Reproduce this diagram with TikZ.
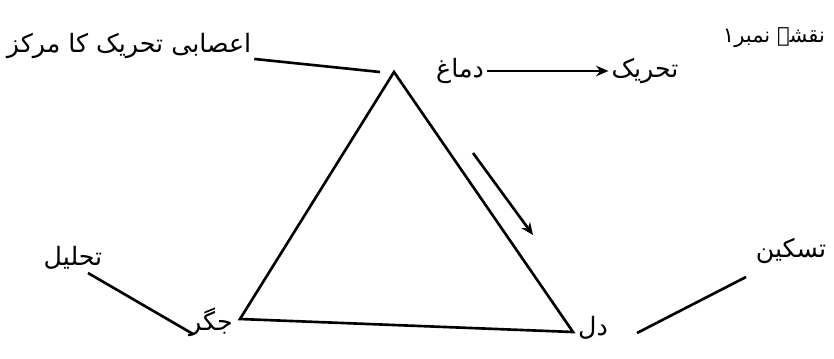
\documentclass[tikz,border=0pt]{standalone}
\usepackage{fontspec}
\newfontfamily\urdufont[Script=Arabic]{DejaVu Sans}
\TeXXeTstate=1
\usetikzlibrary{arrows.meta, positioning}
\newcommand{\urdu}[1]{\urdufont\beginR #1\endR}

\begin{document}
\begin{tikzpicture}[x=0.02cm, y=-0.02cm, >={Stealth[length=7pt, width=6pt]}, line width=1.5pt]
  \useasboundingbox (0,0) rectangle (834,358);
  % Triangle corners
  \coordinate (brain) at (394,72);
  \coordinate (liver) at (240,319);
  \coordinate (heart) at (573,332);
  \draw[line join=miter] (brain) -- (heart) -- (liver) -- cycle;
  % Labels
  \node[font=\large, inner sep=1pt] (map) at (774,38) {\urdu{نقشہ نمبر۱}};
  \node[font=\Large, inner sep=1pt] (nerve) at (129,46) {\urdu{اعصابی تحریک کا مرکز}};
  \node[font=\Large, inner sep=1pt] (dimagh) at (460,71) {\urdu{دماغ}};
  \node[font=\Large, inner sep=1pt] (tahreek) at (645,71) {\urdu{تحریک}};
  \node[font=\Large, inner sep=1pt] (tahlil) at (73,258) {\urdu{تحلیل}};
  \node[font=\Large, inner sep=1pt] (jigar) at (211,322) {\urdu{جگر}};
  \node[font=\Large, inner sep=1pt] (dil) at (593,328) {\urdu{دل}};
  \node[font=\Large, inner sep=1pt] (taskeen) at (791,251) {\urdu{تسکین}};
  % Pointer lines
  \draw (nerve) -- ([xshift=-0.28cm]brain);
  \draw ([shift={(15,15)}]tahlil.center) -- ([shift={(-18,12)}]jigar.center);
  \draw ([shift={(44,5)}]dil.center) -- ([shift={(-45,26)}]taskeen.center);
  % Flow arrows
  \draw[->] (dimagh) -- (tahreek);
  \coordinate (flowA) at (473,153);
  \coordinate (flowB) at (533,235);
  \draw[->] (flowA) -- (flowB);
\end{tikzpicture}
\end{document}
